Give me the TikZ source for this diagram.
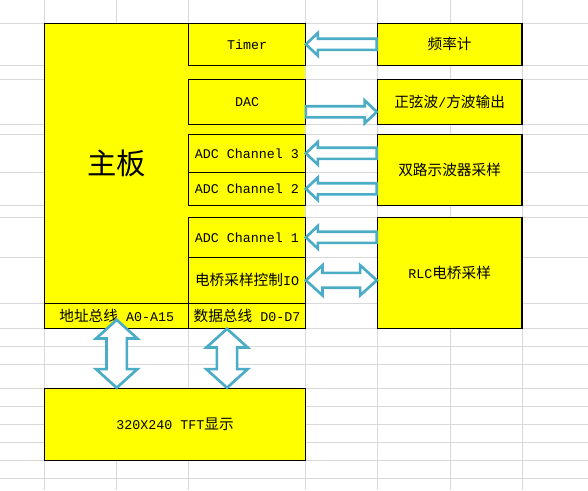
\documentclass[tikz,border=0pt]{standalone}
\usepackage{fontspec}
\setmainfont{Liberation Mono}
\newfontfamily\cjk[Scale=1.1]{Noto Sans CJK SC}
\usetikzlibrary{calc}
\definecolor{cellyellow}{RGB}{255,255,0}
\definecolor{arrowblue}{RGB}{75,172,198}
\definecolor{gridgray}{RGB}{217,217,217}

\begin{document}
\begin{tikzpicture}[x=0.75pt,y=-0.75pt,
    cell/.style={draw,fill=cellyellow,line width=0.8pt,inner sep=0pt,
      font=\fontsize{10}{12}\selectfont},
    sub/.style={cell,minimum width=87.5pt},
    side/.style={cell,minimum width=108.5pt},
    fat/.style n args={3}{draw=arrowblue,line width=2pt,fill=white,line join=miter,
      to path={($(\tikztostart)!#3!90:(\tikztotarget)$)
        -- ($(\tikztotarget)!#1!(\tikztostart)!#3!90:(\tikztotarget)$)
        -- ($(\tikztotarget)!#1!(\tikztostart)!#2!90:(\tikztotarget)$)
        -- (\tikztotarget)
        -- ($(\tikztotarget)!#1!(\tikztostart)!#2!-90:(\tikztotarget)$)
        -- ($(\tikztotarget)!#1!(\tikztostart)!#3!-90:(\tikztotarget)$)
        -- ($(\tikztostart)!#3!-90:(\tikztotarget)$) -- cycle}},
    fatboth/.style n args={3}{draw=arrowblue,line width=2pt,fill=white,line join=miter,
      to path={(\tikztostart)
        -- ($(\tikztostart)!#1!(\tikztotarget)!#2!90:(\tikztotarget)$)
        -- ($(\tikztostart)!#1!(\tikztotarget)!#3!90:(\tikztotarget)$)
        -- ($(\tikztotarget)!#1!(\tikztostart)!#3!90:(\tikztotarget)$)
        -- ($(\tikztotarget)!#1!(\tikztostart)!#2!90:(\tikztotarget)$)
        -- (\tikztotarget)
        -- ($(\tikztotarget)!#1!(\tikztostart)!#2!-90:(\tikztotarget)$)
        -- ($(\tikztotarget)!#1!(\tikztostart)!#3!-90:(\tikztotarget)$)
        -- ($(\tikztostart)!#1!(\tikztotarget)!#3!-90:(\tikztotarget)$)
        -- ($(\tikztostart)!#1!(\tikztotarget)!#2!-90:(\tikztotarget)$) -- cycle}}]
\useasboundingbox (0,0) rectangle (588,490);
\fill[white] (0,0) rectangle (588,490);
\foreach \x in {44.7,116.3,188.7,305.3,377.3,450,522}
  \draw[gridgray,line width=0.75pt] (\x,0) -- (\x,490);
\foreach \y in {23.3,65.3,79.3,124.3,134.3,172.3,205.3,217.3,257.3,303.3,328.3,
    346.3,364.3,388.3,406.3,424.3,442.3,460.3,478.3}
  \draw[gridgray,line width=0.75pt] (0,\y) -- (588,\y);

\node[fill=cellyellow,inner sep=0pt,minimum width=195.45pt,minimum height=228.75pt] (board) at (175,175.8) {};
\draw[line width=0.8pt] (board.north east) -- (board.north west) -- (board.south west) -- (board.south east);
\node[font=\cjk\fontsize{20}{24}\selectfont] (main) at (116.7,163.3) {主板};

\node[sub,minimum height=31.5pt] (timer) at (247,44.3) {Timer};
\node[sub,minimum height=33.75pt] (dac) at (247,101.8) {DAC};
\node[sub,minimum height=28.5pt] (adc3) at (247,153.3) {ADC Channel 3};
\node[sub,minimum height=24.75pt] (adc2) at (247,188.8) {ADC Channel 2};
\node[sub,minimum height=30pt] (adc1) at (247,237.3) {ADC Channel 1};
\node[sub,minimum height=34.5pt] (io) at (247,280.3) {{\cjk 电桥采样控制}IO};
\node[cell,minimum width=108pt,minimum height=18.75pt] (addr) at (116.7,315.8) {{\cjk 地址总线} A0-A15};
\node[sub,minimum height=18.75pt] (data) at (247,315.8) {{\cjk 数据总线} D0-D7};

\node[side,minimum height=31.5pt] (freq) at (449.65,44.3) {{\cjk 频率计}};
\node[side,minimum height=33.75pt] (sine) at (449.65,101.8) {{\cjk 正弦波}/{\cjk 方波输出}};
\node[side,minimum height=53.25pt] (osc) at (449.65,169.8) {{\cjk 双路示波器采样}};
\node[side,minimum height=83.25pt] (rlc) at (449.65,272.8) {RLC{\cjk 电桥采样}};
\node[cell,minimum width=195.45pt,minimum height=54pt] (tft) at (175,424.3) {320X240 TFT{\cjk 显示}};

\coordinate (dacout) at ([yshift=-7.5pt]dac.east);
\coordinate (dbus) at ([xshift=-15pt]data.south);
\draw[fat={9pt}{8.5pt}{4.2pt}] (timer.east -| freq.west) to (timer.east);
\draw[fat={9pt}{8.5pt}{4.2pt}] (dacout) to (dacout -| sine.west);
\draw[fat={9pt}{8.5pt}{4.2pt}] (adc3.east -| osc.west) to (adc3.east);
\draw[fat={9pt}{8.5pt}{4.2pt}] (adc2.east -| osc.west) to (adc2.east);
\draw[fat={9pt}{8.5pt}{4.2pt}] (adc1.east -| rlc.west) to (adc1.east);
\draw[fatboth={12.5pt}{11.3pt}{5.6pt}] (io.east) to (io.east -| rlc.west);
\draw[fatboth={14pt}{15.5pt}{7.6pt}] ([yshift=6.75pt]addr.south) to (addr.south |- tft.north);
\draw[fatboth={14pt}{15.5pt}{7.6pt}] (dbus) to (dbus |- tft.north);
\end{tikzpicture}
\end{document}
